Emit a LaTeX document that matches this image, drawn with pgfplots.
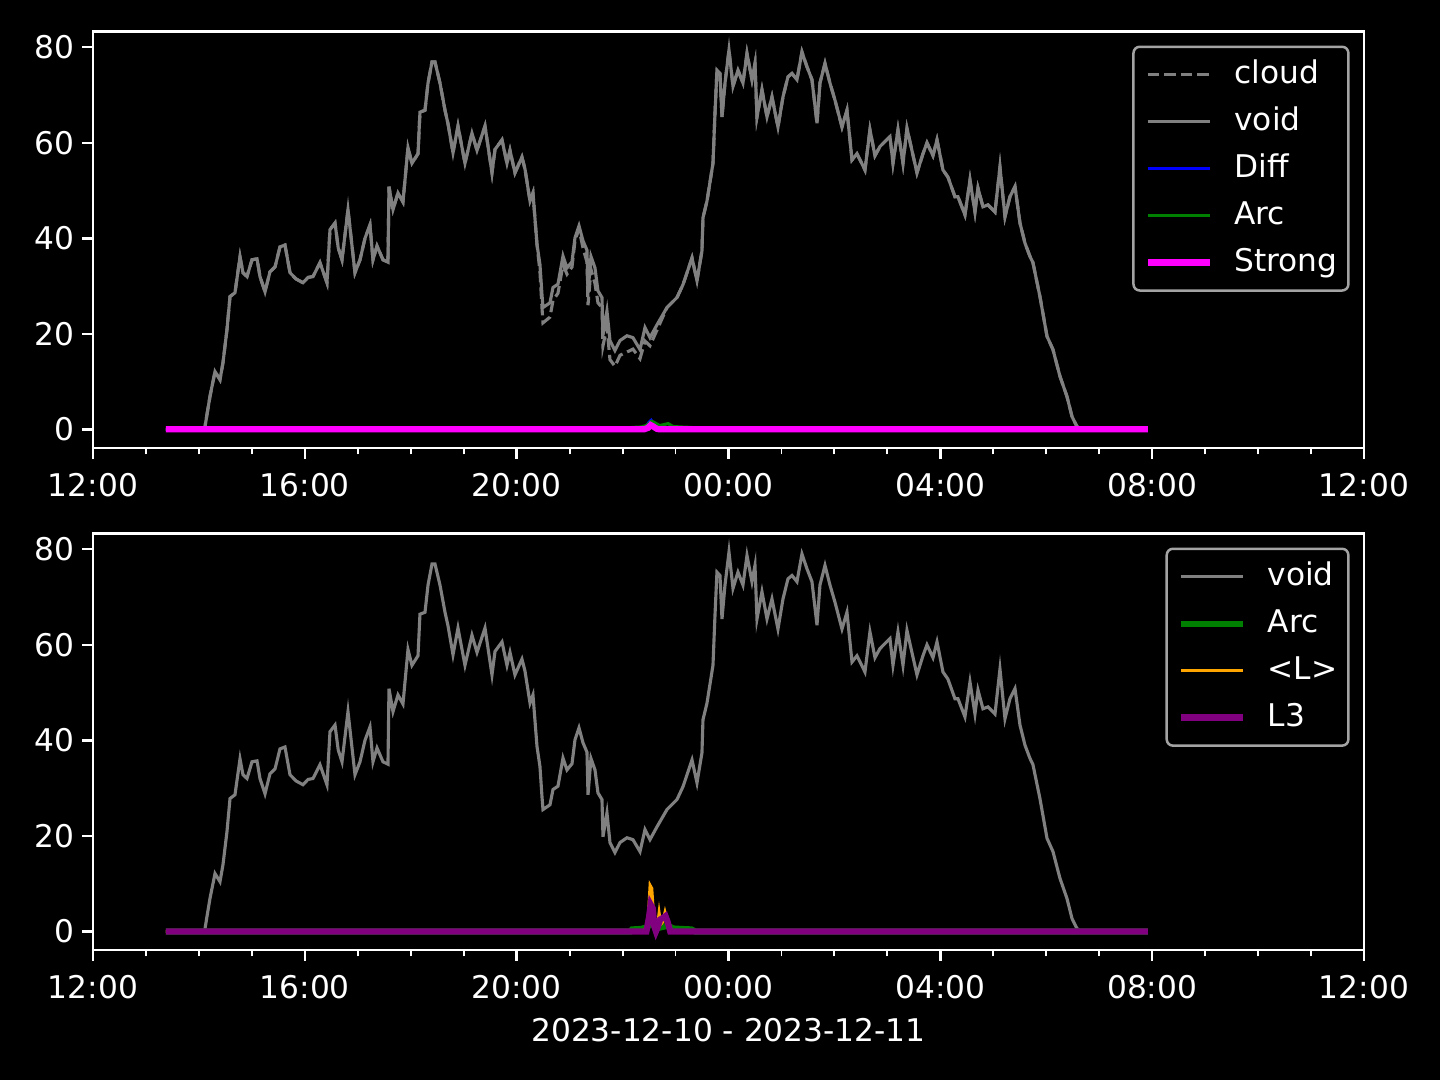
\documentclass[border=0pt]{standalone}
\usepackage{fontspec}
\setmainfont{DejaVu Sans}
\usepackage{pgfplots}
\pgfplotsset{compat=1.18}
\usepackage{pgfplotstable}
\definecolor{vgray}{HTML}{808080}
\definecolor{lgframe}{HTML}{A3A3A3}
\definecolor{myorange}{HTML}{FFA500}
\definecolor{mypurple}{HTML}{800080}
\definecolor{mygreen}{HTML}{008000}
\definecolor{myblue}{HTML}{0000FF}
\definecolor{mymagenta}{HTML}{FF00FF}

\pgfplotstableread{
h void cloud
1.378 0 0
2.100 0 0
2.115 0.6 0.6
2.209 6.9 6.9
2.304 12.1 12.1
2.398 10.4 10.4
2.455 14.0 14.0
2.530 20.9 20.9
2.587 27.8 27.8
2.681 28.6 28.6
2.776 36.1 36.1
2.832 32.8 32.8
2.908 32.0 32.0
3.002 35.5 35.5
3.097 35.7 35.7
3.153 32.0 32.0
3.248 28.8 28.8
3.342 33.0 33.0
3.437 34.0 34.0
3.531 38.2 38.2
3.625 38.6 38.6
3.720 32.8 32.8
3.833 31.5 31.5
3.965 30.7 30.7
4.060 31.8 31.8
4.154 32.0 32.0
4.286 34.9 34.9
4.418 30.7 30.7
4.475 41.8 41.8
4.570 43.2 43.2
4.630 38.0 38.0
4.702 35.5 35.5
4.815 46.0 46.0
4.947 32.8 32.8
5.042 35.5 35.5
5.136 40.0 40.0
5.230 42.8 42.8
5.287 35.5 35.5
5.363 38.4 38.4
5.476 35.5 35.5
5.570 35.0 35.0
5.589 50.8 50.8
5.665 46.0 46.0
5.759 49.5 49.5
5.853 47.6 47.6
5.948 59.0 59.0
6.023 55.7 55.7
6.137 57.7 57.7
6.174 66.4 66.4
6.269 66.8 66.8
6.326 72.5 72.5
6.401 76.9 76.9
6.458 76.9 76.9
6.552 72.5 72.5
6.647 66.8 66.8
6.703 64.0 64.0
6.798 57.9 57.9
6.892 63.5 63.5
7.024 55.7 55.7
7.156 62.0 62.0
7.251 58.4 58.4
7.402 63.5 63.5
7.534 53.7 53.7
7.591 58.6 58.6
7.723 60.6 60.6
7.817 55.7 55.7
7.874 58.4 58.4
7.968 53.7 53.7
8.100 57.0 57.0
8.157 54.5 54.5
8.252 47.8 47.8
8.308 49.5 49.5
8.384 38.7 38.7
8.440 34.5 33.0
8.478 28.2 25.5
8.497 25.5 22.3
8.629 26.5 23.5
8.686 29.7 27.0
8.780 30.4 28.5
8.875 36.3 34.5
8.950 33.8 32.5
9.045 35.1 34.0
9.101 40.1 39.5
9.177 42.6 42.0
9.252 39.5 38.0
9.328 37.5 35.0
9.347 28.6 26.0
9.403 36.2 33.5
9.479 33.8 30.5
9.535 29.0 26.5
9.611 27.6 25.5
9.630 19.8 17.5
9.705 24.8 21.5
9.762 18.6 14.6
9.856 16.5 13.2
9.951 18.6 15.5
10.083 19.6 16.2
10.196 19.2 16.8
10.329 16.7 14.8
10.423 21.3 18.5
10.517 19.2 17.5
10.650 21.9 20.8
10.838 25.5 25.5
11.027 27.6 27.6
11.141 30.3 30.3
11.311 35.9 35.9
11.405 31.1 31.1
11.499 37.4 37.4
11.518 44.3 44.3
11.594 47.8 47.8
11.707 55.7 55.7
11.745 66.2 66.2
11.782 75.2 75.2
11.839 74.5 74.5
11.877 65.4 65.4
11.934 72.5 72.5
12.009 79.4 79.4
12.085 71.8 71.8
12.179 75.2 75.2
12.273 72.5 72.5
12.349 78.7 78.7
12.443 73.2 73.2
12.500 76.6 76.6
12.538 65.4 65.4
12.632 71.1 71.1
12.727 65.4 65.4
12.821 69.6 69.6
12.934 63.3 63.3
13.029 69.6 69.6
13.123 73.8 73.8
13.199 74.5 74.5
13.293 73.2 73.2
13.387 79.0 79.0
13.482 75.9 75.9
13.576 73.2 73.2
13.671 64.1 64.1
13.727 72.5 72.5
13.822 76.6 76.6
13.916 72.5 72.5
14.011 68.9 68.9
14.143 63.3 63.3
14.237 66.8 66.8
14.332 56.4 56.4
14.426 57.7 57.7
14.577 54.3 54.3
14.671 62.7 62.7
14.766 57.3 57.3
14.860 59.2 59.2
15.049 61.3 61.3
15.106 55.7 55.7
15.200 62.7 62.7
15.295 55.7 55.7
15.370 63.0 63.0
15.559 53.7 53.7
15.672 57.7 57.7
15.748 60.0 60.0
15.861 57.3 57.3
15.937 60.6 60.6
16.050 54.3 54.3
16.144 52.8 52.8
16.276 48.7 48.7
16.333 48.7 48.7
16.465 44.9 44.9
16.560 52.2 52.2
16.654 45.5 45.5
16.711 50.5 50.5
16.805 46.6 46.6
16.900 47.0 47.0
17.032 45.5 45.5
17.126 54.9 54.9
17.221 44.5 44.5
17.315 48.7 48.7
17.410 50.8 50.8
17.504 43.2 43.2
17.598 39.0 39.0
17.693 36.2 36.2
17.749 34.9 34.9
17.881 27.8 27.8
18.014 19.5 19.5
18.127 16.7 16.7
18.259 11.1 11.1
18.391 6.9 6.9
18.486 2.7 2.7
18.580 0.6 0.6
18.650 0 0
19.921 0 0
}\voidtab

\pgfplotstableread{
h v
1.378 0
10.25 0
10.35 0.3
10.45 0.6
10.50 1.5
10.54 1.9
10.58 1.2
10.62 0.5
10.68 0.2
10.75 0
19.921 0
}\difftab

\pgfplotstableread{
h v
1.378 0
10.15 0
10.18 0.4
10.35 0.5
10.45 0.8
10.55 1.7
10.62 1.3
10.70 0.8
10.78 1.0
10.86 1.2
10.95 0.6
11.10 0.5
11.30 0.4
11.37 0
19.921 0
}\arctab

\pgfplotstableread{
h v
1.378 0
10.40 0
10.48 0.3
10.53 0.9
10.58 0.6
10.65 0.1
10.70 0
19.921 0
}\strongtab

\pgfplotstableread{
h v
1.378 0
10.40 0
10.48 1.5
10.52 9.6
10.55 9.0
10.58 4.0
10.61 0.5
10.66 1.0
10.69 3.8
10.72 1.5
10.76 2.0
10.80 3.9
10.84 2.0
10.90 0.3
10.95 0
19.921 0
}\ltab

\pgfplotstableread{
h v
1.378 0
10.45 0
10.50 3.0
10.53 5.6
10.57 4.8
10.60 1.0
10.63 0
10.66 0.8
10.71 2.5
10.76 2.8
10.81 3.2
10.85 2.0
10.90 0
19.921 0
}\lthreetab

\pgfplotsset{
 darkax/.style={
  scale only axis, width=406.72pt, height=133.3pt,
  xmin=0, xmax=24, ymin=-3.9, ymax=83.3,
  xtick={0,4,...,24},
  xticklabels={12:00,16:00,20:00,00:00,04:00,08:00,12:00},
  minor x tick num=3,
  ytick={0,20,40,60,80},
  tick align=outside, tick pos=left,
  major tick length=3.5pt, minor tick length=2pt,
  major tick style={white, line width=0.8pt},
  minor tick style={white, line width=0.6pt},
  axis line style={white, line width=0.8pt},
  ticklabel style={white, font=\fontsize{10}{12}\selectfont},
  xticklabel style={inner sep=0pt, anchor=base, yshift=-12.1pt},
  yticklabel style={inner sep=0pt, anchor=east, xshift=-2.2pt},
  /pgf/number format/assume math mode=true,
  legend cell align=left,
  legend image code/.code={\draw[##1] (0pt,0pt) -- (20pt,0pt);},
  legend style={
    at={(1,1)}, anchor=north east, xshift=-4.6pt, yshift=-4.5pt,
    fill=black, draw=lgframe, line width=0.8pt, rounded corners=2pt,
    text=white, font=\fontsize{10}{12}\selectfont,
    inner xsep=3.5pt, inner ysep=4pt, row sep=5pt,
    nodes={inner sep=0pt, text height=7.8pt, text depth=2.2pt},
    /tikz/every odd column/.append style={column sep=6.8pt},
  },
 }
}

\begin{document}
\begin{tikzpicture}
\path[use as bounding box, fill=black] (-29.76pt,-202.24pt) rectangle (431.04pt,143.36pt);
\begin{axis}[darkax, at={(0pt,0pt)}, anchor=south west]
\addplot[vgray, line width=1pt, dash pattern=on 3.7pt off 1.6pt] table[x=h,y=cloud]{\voidtab};
\addlegendentry{cloud}
\addplot[vgray, line width=1pt] table[x=h,y=void]{\voidtab};
\addlegendentry{void}
\addplot[myblue, line width=1pt] table[x=h,y=v]{\difftab};
\addlegendentry{Diff}
\addplot[mygreen, line width=1pt] table[x=h,y=v]{\arctab};
\addlegendentry{Arc}
\addplot[mymagenta, line width=2pt] table[x=h,y=v]{\strongtab};
\addlegendentry{Strong}
\end{axis}
\begin{axis}[darkax, at={(0pt,-160.64pt)}, anchor=south west,
  xlabel={2023-12-10 - 2023-12-11},
  xlabel style={white, font=\fontsize{10}{12}\selectfont, inner sep=0pt, at={(axis description cs:0.5,0)}, anchor=base, yshift=-29.3pt}]
\addplot[vgray, line width=1pt] table[x=h,y=void]{\voidtab};
\addlegendentry{void}
\addplot[mygreen, line width=2pt] table[x=h,y=v]{\arctab};
\addlegendentry{Arc}
\addplot[myorange, line width=1pt] table[x=h,y=v]{\ltab};
\addlegendentry{<L>}
\addplot[mypurple, line width=2pt] table[x=h,y=v]{\lthreetab};
\addlegendentry{L3}
\end{axis}
\end{tikzpicture}
\end{document}
